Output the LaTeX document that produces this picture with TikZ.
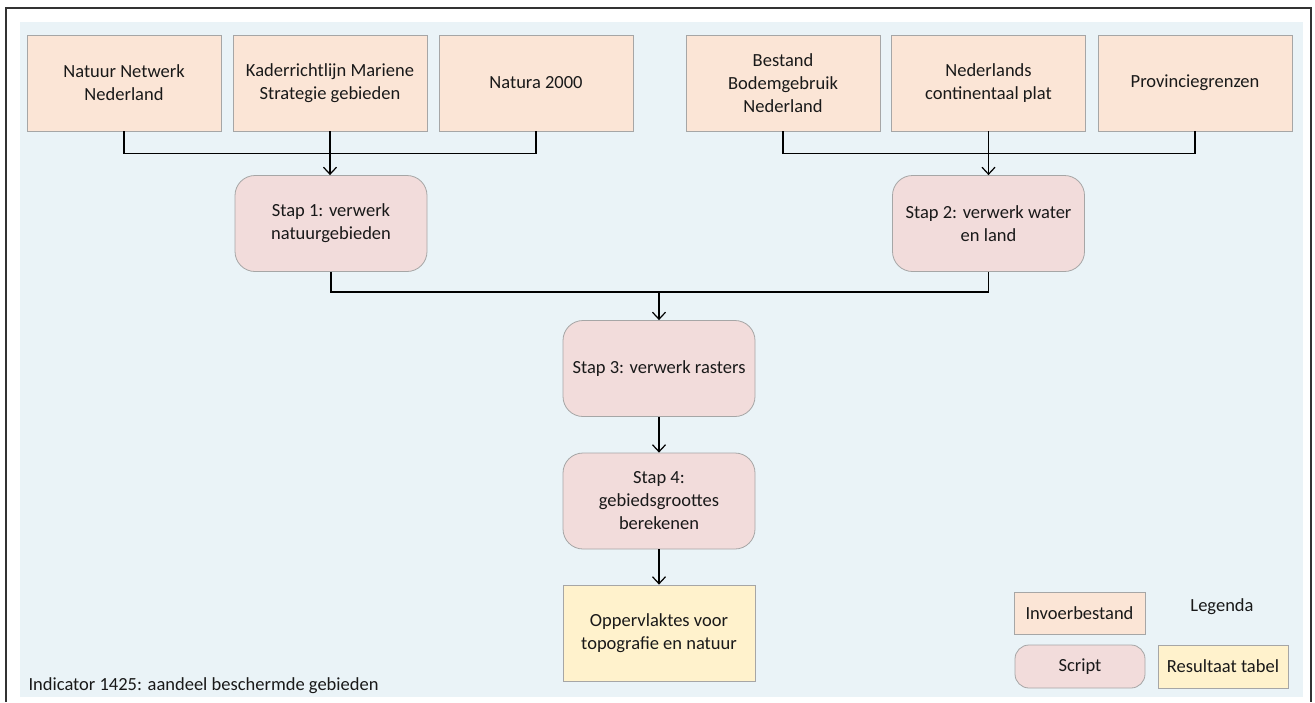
\documentclass[tikz,border=0pt]{standalone}
\usepackage{fontspec}
\setmainfont{Carlito}
\usetikzlibrary{arrows.meta}
\definecolor{panelbg}{HTML}{EAF3F7}
\definecolor{inputfill}{HTML}{FBE5D6}
\definecolor{scriptfill}{HTML}{F2DCDB}
\definecolor{resultfill}{HTML}{FFF2CC}
\definecolor{boxline}{HTML}{A6A6A6}
\tikzset{
  every node/.style={font=\fontsize{18.5pt}{23pt}\selectfont, text=black!90},
  inputbox/.style={draw=boxline, line width=0.8pt, fill=inputfill, minimum width=194pt, minimum height=96pt, align=center, inner sep=0pt},
  scriptbox/.style={draw=boxline, line width=0.8pt, fill=scriptfill, rounded corners=20pt, minimum width=192pt, minimum height=96pt, align=center, inner sep=0pt},
  resultbox/.style={draw=boxline, line width=0.8pt, fill=resultfill, minimum width=192pt, minimum height=96pt, align=center, inner sep=0pt},
  conn/.style={line width=1.4pt, black},
  arr/.style={conn, -{Straight Barb[length=7pt,width=13pt,line width=1.2pt]}},
}
\begin{document}
\begin{tikzpicture}[x=1pt,y=-1pt]
\useasboundingbox (0,0) rectangle (1315,702);
% panel and frame
\fill[panelbg] (20,22) rectangle (1303,697);
\draw[line width=1.2pt, black!80] (6,702) -- (6,8) -- (1311,8) -- (1311,702);

% input files
\node[inputbox] (nnn) at (124,83) {Natuur Netwerk\\Nederland};
\node[inputbox] (krm) at (330,83) {Kaderrichtlijn Mariene\\Strategie gebieden};
\node[inputbox] (n2k) at (536,83) {Natura 2000};
\node[inputbox] (bbn) at (783,83) {Bestand\\Bodemgebruik\\Nederland};
\node[inputbox] (ncp) at (988.5,83) {Nederlands\\continentaal plat};
\node[inputbox] (prv) at (1195,83) {Provinciegrenzen};

% scripts
\node[scriptbox] (s1) at (331,223.5) {Stap 1: verwerk\\natuurgebieden};
\node[scriptbox] (s2) at (988.5,223.5) {Stap 2: verwerk water\\en land};
\node[scriptbox] (s3) at (659,368.5) {Stap 3: verwerk rasters};
\node[scriptbox] (s4) at (659,501) {Stap 4:\\gebiedsgroottes\\berekenen};

% result
\node[resultbox] (res) at (659,633) {Oppervlaktes voor\\topografie en natuur};

% connectors
\draw[conn] (nnn.south) -- ++(0,22) -| (n2k.south);
\draw[arr] (krm.south) -- (krm.south |- s1.north);
\draw[conn] (bbn.south) -- ++(0,22) -| (prv.south);
\draw[arr] (ncp.south) -- (ncp.south |- s2.north);
\coordinate (join) at (659,292);
\draw[conn] (s1.south) |- (join) -| (s2.south);
\draw[arr] (join) -- (s3.north);
\draw[arr] (s3.south) -- (s4.north);
\draw[arr] (s4.south) -- (res.north);

% legend
\node[inputbox, minimum width=131pt, minimum height=42pt] (lin) at (1079.5,613) {Invoerbestand};
\node[anchor=center] (lgd) at (1222,607) {Legenda};
\node[scriptbox, minimum width=130pt, minimum height=43pt, rounded corners=14pt] (lsc) at (1080,666.5) {Script};
\node[resultbox, minimum width=130pt, minimum height=43pt] (lrs) at (1223,666.5) {Resultaat tabel};

% caption
\node[anchor=base west] (cap) at (25,690) {Indicator 1425: aandeel beschermde gebieden};
\end{tikzpicture}
\end{document}
